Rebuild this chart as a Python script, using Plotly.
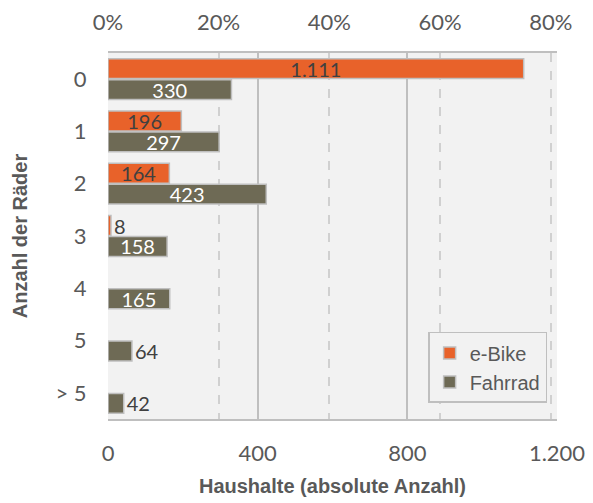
import plotly.graph_objects as go

categories = ["0", "1", "2", "3", "4", "5", "> 5"]
ebike = [1111, 196, 164, 8, None, None, None]
fahrrad = [330, 297, 423, 158, 165, 64, 42]
total = 1479
x_ticks = [0, 400, 800, 1200]
x_tick_text = ["0", "400", "800", "1.200"]
pct_ticks = [0, 0.2, 0.4, 0.6, 0.8]

FONT = "Lato, Open Sans, sans-serif"
ARIAL = "Liberation Sans, Arial, sans-serif"
GRAY = "#595959"
DARK = "#404040"

ebike_pos = ["inside" if (v is not None and v > 100) else "outside" for v in ebike]
fahrrad_pos = ["inside" if v > 100 else "outside" for v in fahrrad]

fig = go.Figure()
fig.add_trace(go.Bar(
    name="e-Bike", y=categories, x=ebike, orientation="h",
    marker=dict(color="#E8622A", line=dict(color="#BFBFBF", width=1.5)),
    text=ebike, texttemplate="%{x:,}", textposition=ebike_pos,
    insidetextanchor="middle", textangle=0, constraintext="none",
    insidetextfont=dict(color=DARK, size=20, family=FONT),
    outsidetextfont=dict(color=DARK, size=20, family=FONT),
    cliponaxis=False,
))
fig.add_trace(go.Bar(
    name="Fahrrad", y=categories, x=fahrrad, orientation="h",
    marker=dict(color="#6E6A55", line=dict(color="#BFBFBF", width=1.5)),
    text=fahrrad, texttemplate="%{x:,}", textposition=fahrrad_pos,
    insidetextanchor="middle", textangle=0, constraintext="none",
    insidetextfont=dict(color="white", size=20, family=FONT),
    outsidetextfont=dict(color=DARK, size=20, family=FONT),
    cliponaxis=False,
))
# invisible trace to activate the top percentage axis
fig.add_trace(go.Scatter(x=[0, 1200 / total], y=[categories[0], categories[0]],
                         xaxis="x2", mode="markers", marker=dict(opacity=0),
                         showlegend=False, hoverinfo="skip"))

fig.update_layout(
    width=593, height=503,
    margin=dict(l=100, r=44, t=45, b=92),
    paper_bgcolor="white", plot_bgcolor="#F2F2F2",
    separators=",.",
    barmode="group", bargap=0.2, bargroupgap=0.05,
    font=dict(family=FONT, color=GRAY, size=20),
    showlegend=True,
    legend=dict(x=0.713, y=0.238, xanchor="left", yanchor="top",
                bgcolor="#F2F2F2", bordercolor="#BFBFBF", borderwidth=1.5,
                font=dict(size=20, color=GRAY, family=ARIAL), traceorder="normal",
                itemwidth=30, tracegroupgap=0),
    xaxis=dict(range=[0, 1200], tickvals=x_ticks, ticktext=x_tick_text,
               showgrid=True, gridcolor="#BFBFBF", gridwidth=1.5,
               showline=True, linecolor="#BFBFBF", linewidth=2, mirror=True,
               zeroline=False, ticks="outside", ticklen=14, tickcolor="rgba(0,0,0,0)",
               tickfont=dict(size=22, color=GRAY), automargin=False,
               title=dict(text="<b>Haushalte (absolute Anzahl)</b>",
                          font=dict(family=ARIAL, size=20, color=GRAY), standoff=14)),
    xaxis2=dict(overlaying="x", side="top", anchor="y",
                range=[0, 1200 / total], tickvals=pct_ticks, tickformat=".0%",
                showgrid=True, gridcolor="#D0D0D0", gridwidth=1.5, griddash="dash",
                zeroline=False, showline=False, automargin=False,
                ticks="outside", ticklen=13, tickcolor="rgba(0,0,0,0)",
                tickfont=dict(size=22, color=GRAY)),
    yaxis=dict(autorange="reversed", showgrid=False, zeroline=False,
               ticks="outside", ticklen=16, tickcolor="rgba(0,0,0,0)",
               tickfont=dict(size=22, color=GRAY), automargin=False,
               title=dict(text="<b>Anzahl der Räder</b>",
                          font=dict(family=ARIAL, size=20, color=GRAY), standoff=22)),
)
fig.write_html("out.html")
